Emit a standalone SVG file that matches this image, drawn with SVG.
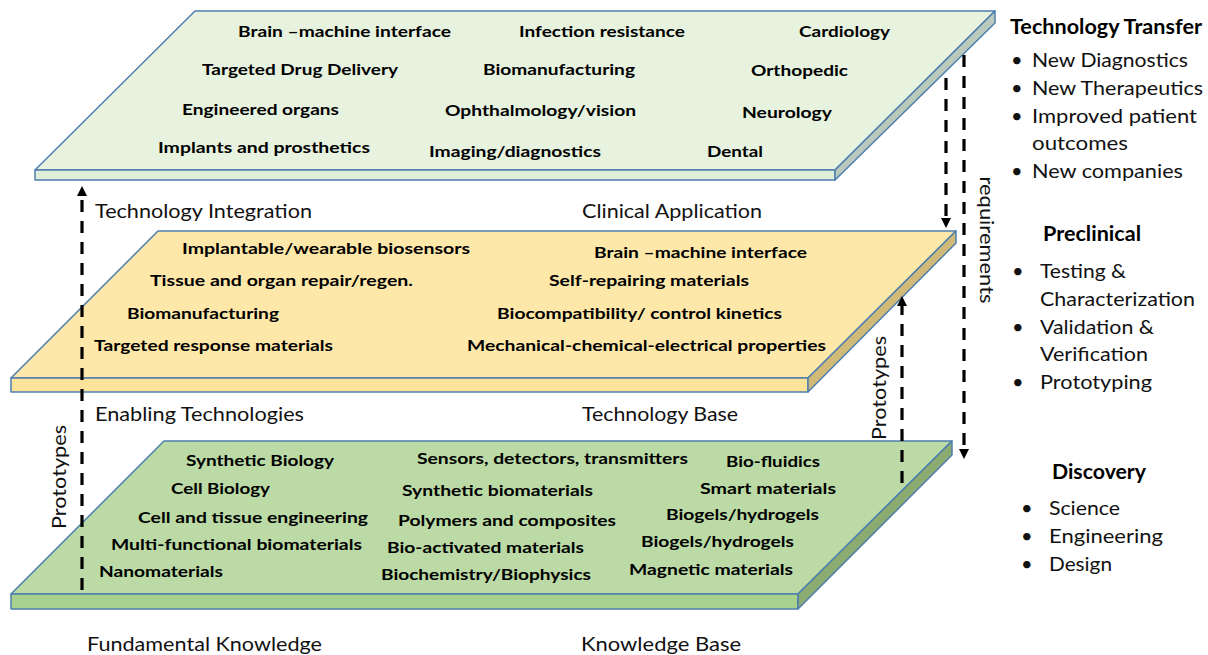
<svg xmlns="http://www.w3.org/2000/svg" width="1208" height="655" viewBox="0 0 1208 655">
<style>
.pl{stroke:#4E7FAF;stroke-width:1.5;stroke-linejoin:round}
.b{font-family:Lato,"Open Sans","Liberation Sans",sans-serif;font-weight:bold;font-size:16px;fill:#000}
.r{font-family:Lato,"Open Sans","Liberation Sans",sans-serif;font-size:20px;fill:#111}
.h{font-family:Lato,"Open Sans","Liberation Sans",sans-serif;font-weight:bold;font-size:20px;fill:#000}
.d{fill:none;stroke:#000;stroke-width:3.2;stroke-dasharray:12 9}
</style>
<defs>
<marker id="ah" viewBox="0 0 10 10" refX="0" refY="5" markerWidth="10" markerHeight="10" markerUnits="userSpaceOnUse" orient="auto">
<path d="M0,0 L10,5 L0,10 z" fill="#000"/>
</marker>
</defs>
<rect width="1208" height="655" fill="#fff"/>

<g id="plate-bottom">
<polygon class="pl" points="164,441 952,441 798,594 11,594" fill="#BBDAA5"/>
<polygon class="pl" points="11,594 798,594 798,609 11,609" fill="#A9D18E"/>
<polygon class="pl" points="798,594 952,441 952,455 798,609" fill="#8CAB70"/>
<text class="b" x="186" y="466" textLength="148" lengthAdjust="spacingAndGlyphs">Synthetic Biology</text>
<text class="b" x="171" y="494" textLength="99" lengthAdjust="spacingAndGlyphs">Cell Biology</text>
<text class="b" x="138" y="523" textLength="230" lengthAdjust="spacingAndGlyphs">Cell and tissue engineering</text>
<text class="b" x="111" y="550" textLength="251" lengthAdjust="spacingAndGlyphs">Multi-functional biomaterials</text>
<text class="b" x="99" y="577" textLength="124" lengthAdjust="spacingAndGlyphs">Nanomaterials</text>
<text class="b" x="417" y="464" textLength="271" lengthAdjust="spacingAndGlyphs">Sensors, detectors, transmitters</text>
<text class="b" x="402" y="496" textLength="191" lengthAdjust="spacingAndGlyphs">Synthetic biomaterials</text>
<text class="b" x="398" y="526" textLength="218" lengthAdjust="spacingAndGlyphs">Polymers and composites</text>
<text class="b" x="387" y="553" textLength="197" lengthAdjust="spacingAndGlyphs">Bio-activated materials</text>
<text class="b" x="381" y="580" textLength="210" lengthAdjust="spacingAndGlyphs">Biochemistry/Biophysics</text>
<text class="b" x="726" y="467" textLength="94" lengthAdjust="spacingAndGlyphs">Bio-fluidics</text>
<text class="b" x="700" y="494" textLength="136" lengthAdjust="spacingAndGlyphs">Smart materials</text>
<text class="b" x="666" y="520" textLength="153" lengthAdjust="spacingAndGlyphs">Biogels/hydrogels</text>
<text class="b" x="641" y="547" textLength="153" lengthAdjust="spacingAndGlyphs">Biogels/hydrogels</text>
<text class="b" x="629" y="575" textLength="164" lengthAdjust="spacingAndGlyphs">Magnetic materials</text>
</g>

<g id="plate-middle">
<polygon class="pl" points="158,231 956,231 808,378 11,378" fill="#FEE8A9"/>
<polygon class="pl" points="11,378 808,378 808,392 11,392" fill="#FCE39C"/>
<polygon class="pl" points="808,378 956,231 956,243 808,392" fill="#D1B978"/>
<text class="b" x="182" y="254" textLength="288" lengthAdjust="spacingAndGlyphs">Implantable/wearable biosensors</text>
<text class="b" x="150" y="286" textLength="263" lengthAdjust="spacingAndGlyphs">Tissue and organ repair/regen.</text>
<text class="b" x="127" y="319" textLength="152" lengthAdjust="spacingAndGlyphs">Biomanufacturing</text>
<text class="b" x="94" y="351" textLength="239" lengthAdjust="spacingAndGlyphs">Targeted response materials</text>
<text class="b" x="594" y="258" textLength="213" lengthAdjust="spacingAndGlyphs">Brain –machine interface</text>
<text class="b" x="549" y="286" textLength="200" lengthAdjust="spacingAndGlyphs">Self-repairing materials</text>
<text class="b" x="497" y="319" textLength="285" lengthAdjust="spacingAndGlyphs">Biocompatibility/ control kinetics</text>
<text class="b" x="467" y="351" textLength="359" lengthAdjust="spacingAndGlyphs">Mechanical-chemical-electrical properties</text>
</g>

<g id="plate-top">
<polygon class="pl" points="195,11 995,11 835,170 35,170" fill="#E7F2DF"/>
<polygon class="pl" points="35,170 835,170 835,180 35,180" fill="#E0EFDA"/>
<polygon class="pl" points="835,170 995,11 995,23 835,180" fill="#B9C9BC"/>
<text class="b" x="238" y="37" textLength="213" lengthAdjust="spacingAndGlyphs">Brain –machine interface</text>
<text class="b" x="519" y="37" textLength="166" lengthAdjust="spacingAndGlyphs">Infection resistance</text>
<text class="b" x="799" y="37" textLength="91" lengthAdjust="spacingAndGlyphs">Cardiology</text>
<text class="b" x="202" y="75" textLength="196" lengthAdjust="spacingAndGlyphs">Targeted Drug Delivery</text>
<text class="b" x="483" y="75" textLength="152" lengthAdjust="spacingAndGlyphs">Biomanufacturing</text>
<text class="b" x="751" y="76" textLength="97" lengthAdjust="spacingAndGlyphs">Orthopedic</text>
<text class="b" x="182" y="115" textLength="157" lengthAdjust="spacingAndGlyphs">Engineered organs</text>
<text class="b" x="445" y="116" textLength="191" lengthAdjust="spacingAndGlyphs">Ophthalmology/vision</text>
<text class="b" x="742" y="118" textLength="90" lengthAdjust="spacingAndGlyphs">Neurology</text>
<text class="b" x="158" y="153" textLength="212" lengthAdjust="spacingAndGlyphs">Implants and prosthetics</text>
<text class="b" x="429" y="157" textLength="172" lengthAdjust="spacingAndGlyphs">Imaging/diagnostics</text>
<text class="b" x="707" y="157" textLength="56" lengthAdjust="spacingAndGlyphs">Dental</text>
</g>

<g id="labels">
<text class="r" x="95" y="218" textLength="217" lengthAdjust="spacingAndGlyphs">Technology Integration</text>
<text class="r" x="582" y="218" textLength="180" lengthAdjust="spacingAndGlyphs">Clinical Application</text>
<text class="r" x="95" y="421" textLength="209" lengthAdjust="spacingAndGlyphs">Enabling Technologies</text>
<text class="r" x="582" y="421" textLength="156" lengthAdjust="spacingAndGlyphs">Technology Base</text>
<text class="r" x="87" y="651" textLength="235" lengthAdjust="spacingAndGlyphs">Fundamental Knowledge</text>
<text class="r" x="581" y="651" textLength="160" lengthAdjust="spacingAndGlyphs">Knowledge  Base</text>
</g>

<g id="connectors">
<path class="d" d="M82,590 V196" marker-end="url(#ah)"/>
<path class="d" d="M946,78 V218" marker-end="url(#ah)"/>
<path class="d" d="M964,55 V449" marker-end="url(#ah)"/>
<path class="d" d="M902,483 V306" marker-end="url(#ah)"/>
<text class="r" transform="translate(66,477) rotate(-90)" text-anchor="middle" textLength="104" lengthAdjust="spacingAndGlyphs">Prototypes</text>
<text class="r" transform="translate(886,388) rotate(-90)" text-anchor="middle" textLength="104" lengthAdjust="spacingAndGlyphs">Prototypes</text>
<text class="r" transform="translate(980,240) rotate(90)" text-anchor="middle" textLength="127" lengthAdjust="spacingAndGlyphs">requirements</text>
</g>

<g id="stage-transfer">
<text class="h" x="1010" y="34" textLength="192" lengthAdjust="spacingAndGlyphs">Technology Transfer</text>
<text class="r" x="1011" y="67">•</text>
<text class="r" x="1032" y="67" textLength="156" lengthAdjust="spacingAndGlyphs">New Diagnostics</text>
<text class="r" x="1011" y="95">•</text>
<text class="r" x="1032" y="95" textLength="171" lengthAdjust="spacingAndGlyphs">New Therapeutics</text>
<text class="r" x="1011" y="123">•</text>
<text class="r" x="1032" y="123" textLength="165" lengthAdjust="spacingAndGlyphs">Improved patient</text>
<text class="r" x="1032" y="150" textLength="96" lengthAdjust="spacingAndGlyphs">outcomes</text>
<text class="r" x="1011" y="178">•</text>
<text class="r" x="1032" y="178" textLength="151" lengthAdjust="spacingAndGlyphs">New companies</text>
</g>

<g id="stage-preclinical">
<text class="h" x="1043" y="241" textLength="98" lengthAdjust="spacingAndGlyphs">Preclinical</text>
<text class="r" x="1012" y="278">•</text>
<text class="r" x="1040" y="278" textLength="86" lengthAdjust="spacingAndGlyphs">Testing &amp;</text>
<text class="r" x="1040" y="306" textLength="155" lengthAdjust="spacingAndGlyphs">Characterization</text>
<text class="r" x="1012" y="334">•</text>
<text class="r" x="1040" y="334" textLength="114" lengthAdjust="spacingAndGlyphs">Validation &amp;</text>
<text class="r" x="1040" y="361" textLength="108" lengthAdjust="spacingAndGlyphs">Verification</text>
<text class="r" x="1012" y="389">•</text>
<text class="r" x="1040" y="389" textLength="112" lengthAdjust="spacingAndGlyphs">Prototyping</text>
</g>

<g id="stage-discovery">
<text class="h" x="1052" y="479" textLength="94" lengthAdjust="spacingAndGlyphs">Discovery</text>
<text class="r" x="1021" y="515">•</text>
<text class="r" x="1049" y="515" textLength="71" lengthAdjust="spacingAndGlyphs">Science</text>
<text class="r" x="1021" y="543">•</text>
<text class="r" x="1049" y="543" textLength="114" lengthAdjust="spacingAndGlyphs">Engineering</text>
<text class="r" x="1021" y="571">•</text>
<text class="r" x="1049" y="571" textLength="63" lengthAdjust="spacingAndGlyphs">Design</text>
</g>
</svg>
